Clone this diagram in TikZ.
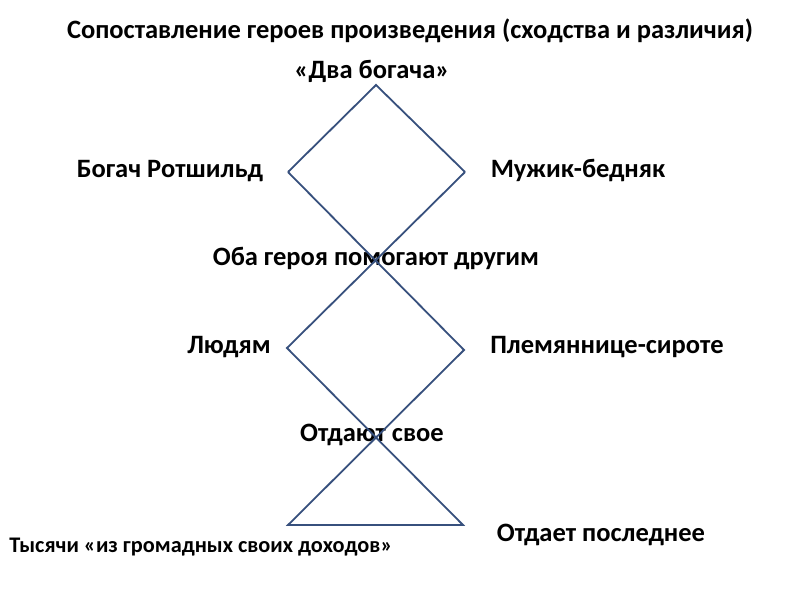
\documentclass[tikz,border=0pt]{standalone}
\usepackage{fontspec}
\setmainfont{Carlito}
\definecolor{lc}{RGB}{55,80,125}
\begin{document}
\begin{tikzpicture}[x=1pt,y=-1pt,
  lbl/.style={font=\fontsize{26.5}{30}\selectfont\bfseries, inner sep=0pt},
  sml/.style={font=\fontsize{22.3}{26}\selectfont\bfseries, inner sep=0pt},
  ln/.style={draw=lc, line width=1.8pt}]
\useasboundingbox[fill=white] (0,0) rectangle (800,600);
\node[lbl] (title) at (410,31) {Сопоставление героев произведения (сходства и различия)};
\node[lbl] (t1) at (372,71) {«Два богача»};
\node[lbl] (a) at (170,171) {Богач Ротшильд};
\node[lbl] (b) at (578,171) {Мужик-бедняк};
\node[lbl] (c) at (376,259) {Оба героя помогают другим};
\node[lbl] (d) at (229,347) {Людям};
\node[lbl] (e) at (607,347) {Племяннице-сироте};
\node[lbl] (f) at (372,435) {Отдают свое};
\node[sml] (g) at (201,547) {Тысячи «из громадных своих доходов»};
\node[lbl] (h) at (601,535) {Отдает последнее};
\coordinate (L1) at (288,172); \coordinate (R1) at (465,172);
\coordinate (T1) at (376,85);
\coordinate (L2) at (287,348); \coordinate (R2) at (464,350);
\coordinate (L3) at (288,525); \coordinate (R3) at (463,525);
\draw[ln] (L1) -- (T1) -- (R1);
\draw[ln] (L1) -- (R2) -- (L3) -- (R3) -- (L2) -- (R1);
\end{tikzpicture}
\end{document}
